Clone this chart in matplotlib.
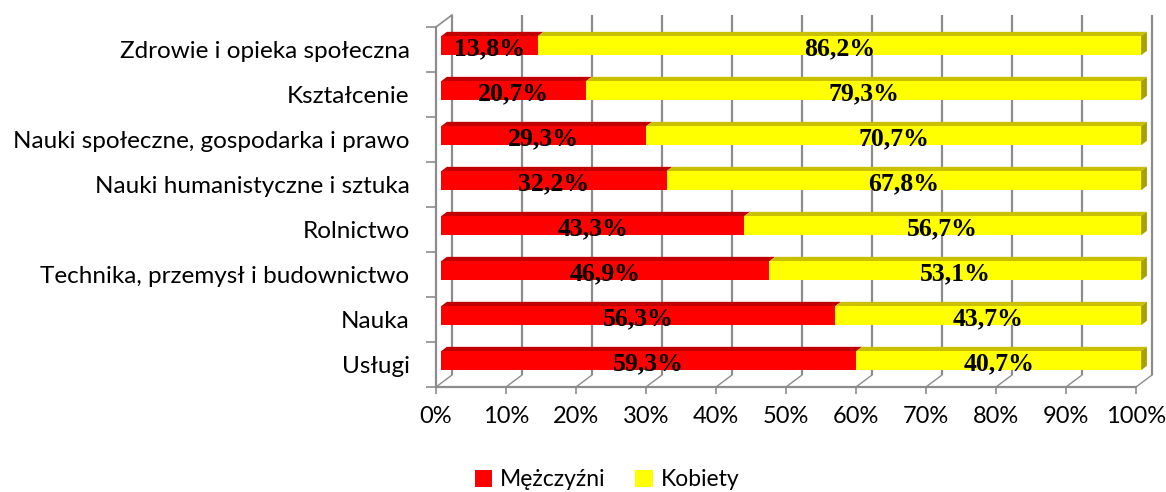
import matplotlib
matplotlib.use("Agg")
import matplotlib.pyplot as plt
from matplotlib.patches import Polygon, Rectangle, Patch
import numpy as np

categories = ["Usługi", "Nauka", "Technika, przemysł i budownictwo", "Rolnictwo",
              "Nauki humanistyczne i sztuka", "Nauki społeczne, gospodarka i prawo",
              "Kształcenie", "Zdrowie i opieka społeczna"]
men = [59.3, 56.3, 46.9, 43.3, 32.2, 29.3, 20.7, 13.8]
women = [40.7, 43.7, 53.1, 56.7, 67.8, 70.7, 79.3, 86.2]
series_names = ["Mężczyźni", "Kobiety"]
xticks = [0, 10, 20, 30, 40, 50, 60, 70, 80, 90, 100]

W, H = 1166, 492
fig = plt.figure(figsize=(W / 100, H / 100), dpi=100)
x0, x1 = 436, 1136
ytop, ybot = 27, 387
ax = fig.add_axes([x0 / W, (H - ybot) / H, (x1 - x0) / W, (ybot - ytop) / H])
n = len(categories)
ax.set_xlim(0, 100)
ax.set_ylim(-0.5, n - 0.5)

pxx = (x1 - x0) / 100.0
pxy = (ybot - ytop) / n
Dx, Dy = 16 / pxx, 12 / pxy  # depth vector in data units
gray = "#8c8c8c"

# back wall gridlines
for t in xticks:
    ax.plot([t + Dx, t + Dx], [-0.5 + Dy, n - 0.5 + Dy], color=gray, lw=1.6,
            clip_on=False, zorder=1, solid_capstyle="butt")
    ax.plot([t, t + Dx], [-0.5, -0.5 + Dy], color=gray, lw=1.0, clip_on=False, zorder=1)
# left wall top diagonal
ax.plot([0, Dx], [n - 0.5, n - 0.5 + Dy], color=gray, lw=1.2, clip_on=False, zorder=1)

# bars
f0, f1 = 0.32, 0.68
bh = 19 / pxy
red_f, red_t = "#ff0000", "#c00000"
yel_f, yel_t, yel_s = "#ffff00", "#c8c000", "#a6a000"
ddx, ddy = (f1 - f0) * Dx, (f1 - f0) * Dy
for i in range(n):
    yc = i + f0 * Dy
    xs = f0 * Dx
    segs = [(0, men[i], red_f, red_t), (men[i], men[i] + women[i], yel_f, yel_t)]
    for (a, b, fc, tc) in segs:
        ax.add_patch(Rectangle((a + xs, yc - bh / 2), b - a, bh, facecolor=fc,
                               edgecolor="none", zorder=3, clip_on=False))
        ax.add_patch(Polygon([(a + xs, yc + bh / 2), (b + xs, yc + bh / 2),
                              (b + xs + ddx, yc + bh / 2 + ddy), (a + xs + ddx, yc + bh / 2 + ddy)],
                             closed=True, facecolor=tc, edgecolor="none", zorder=2.5, clip_on=False))
    b = men[i] + women[i]
    ax.add_patch(Polygon([(b + xs, yc - bh / 2), (b + xs, yc + bh / 2),
                          (b + xs + ddx, yc + bh / 2 + ddy), (b + xs + ddx, yc - bh / 2 + ddy)],
                         closed=True, facecolor=yel_s, edgecolor="none", zorder=2.5, clip_on=False))
    for (a, v) in [(0, men[i]), (men[i], women[i])]:
        ax.text(a + v / 2 + xs, yc - 0.08, ("%.1f%%" % v).replace(".", ","),
                ha="center", va="center", fontsize=18.5, fontweight="bold",
                family="Liberation Serif", color="black", zorder=5, clip_on=False)

for s in ["top", "right"]:
    ax.spines[s].set_visible(False)
for s in ["left", "bottom"]:
    ax.spines[s].set_color(gray)
    ax.spines[s].set_linewidth(1.6)
ax.set_xticks(xticks)
ax.set_xticklabels(["%d%%" % t for t in xticks], fontsize=17, family="Lato")
ax.tick_params(axis="x", length=5, width=1.2, color=gray, pad=9)
ax.set_yticks(np.arange(-0.5, n, 1.0))
ax.set_yticklabels([])
ax.tick_params(axis="y", which="major", length=7, width=1.2, color=gray)
ax.set_yticks(np.arange(n), minor=True)
ax.set_yticklabels(categories, minor=True, fontsize=17.5, family="Lato")
ax.tick_params(axis="y", which="minor", length=0, pad=19)

handles = [Patch(facecolor=red_f), Patch(facecolor=yel_f)]
fig.legend(handles, series_names, loc="center", bbox_to_anchor=(607 / W, 1 - 480 / H),
           ncol=2, frameon=False, prop={"family": "Lato", "size": 16.5},
           handlelength=0.75, handleheight=0.75, handletextpad=0.35, columnspacing=1.3)

fig.savefig("out.png", dpi=100)
